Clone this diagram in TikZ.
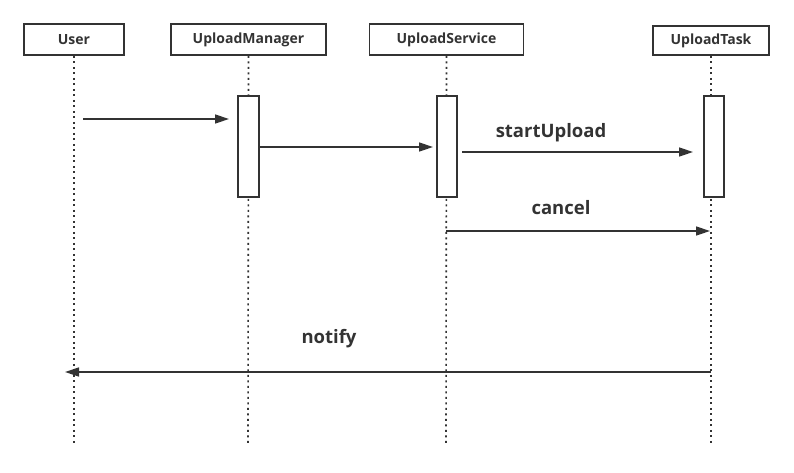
\documentclass[tikz,border=0pt]{standalone}
\usepackage{fontspec}
\setmainfont{Open Sans}
\usetikzlibrary{arrows.meta}
\definecolor{ink}{HTML}{333333}
\tikzset{
  actor/.style={draw=ink, line width=1.7pt, fill=white, minimum height=31pt, inner sep=0pt, font=\fontsize{14}{16}\selectfont\bfseries, text=ink},
  life/.style={draw=ink, line width=1.6pt, dash pattern=on 2pt off 3.5pt},
  act/.style={draw=ink, line width=1.5pt, fill=white},
  msg/.style={draw=ink, line width=1.5pt, -{Triangle[length=14pt,width=9pt]}},
  lbl/.style={font=\fontsize{18.5}{20}\selectfont\bfseries, text=ink}
}
\begin{document}
\begin{tikzpicture}[x=1pt,y=-1pt]
\useasboundingbox (0,0) rectangle (794,472);
% actors
\node[actor, minimum width=100pt] (user) at (74,39.5) {User};
\node[actor, minimum width=155pt] (um) at (248.5,39.5) {UploadManager};
\node[actor, minimum width=154pt] (us) at (446.5,39.5) {UploadService};
\node[actor, minimum width=116pt, minimum height=29pt] (ut) at (711,40.5) {UploadTask};
% lifeline ends
\coordinate (userE) at (74,443);
\coordinate (umE) at (248,443);
\coordinate (usE) at (446,443);
\coordinate (utE) at (711,443);
\draw[life] (user.south) -- (userE);
\draw[life] (um.south) -- (umE);
\draw[life] (us.south) -- (usE);
\draw[life] (ut.south) -- (utE);
% activations
\node[act, minimum width=21pt, minimum height=101pt, inner sep=0pt] (umA) at (248.5,146.5) {};
\node[act, minimum width=20pt, minimum height=101pt, inner sep=0pt] (usA) at (447,146.5) {};
\node[act, minimum width=20pt, minimum height=101pt, inner sep=0pt] (utA) at (714,146.5) {};
% messages
\coordinate (m1s) at (83,119);
\coordinate (m1e) at (229,119);
\draw[msg] (m1s) -- (m1e);
\coordinate (m2e) at (433,147);
\draw[msg] (umA.east |- 0,147) -- (m2e);
\coordinate (m3s) at (462,152);
\coordinate (m3e) at (693,152);
\draw[msg] (m3s) -- (m3e);
\node[lbl] (l3) at (551,133) {startUpload};
\coordinate (m4s) at (446,231);
\coordinate (m4e) at (710,231);
\draw[msg] (m4s) -- (m4e);
\node[lbl] (l4) at (561,208) {cancel};
\coordinate (m5s) at (711,372);
\coordinate (m5e) at (65,372);
\draw[msg] (m5s) -- (m5e);
\node[lbl] (l5) at (329,339) {notify};
\end{tikzpicture}
\end{document}
